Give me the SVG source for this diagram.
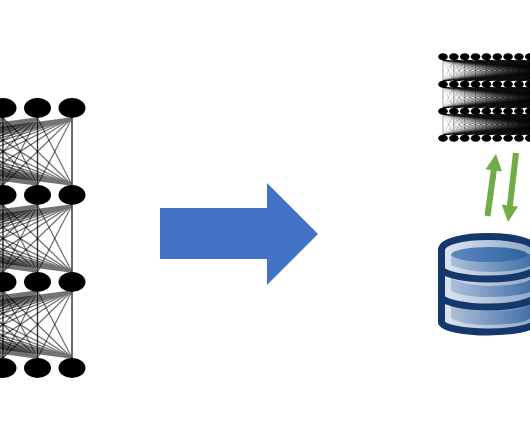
<svg xmlns="http://www.w3.org/2000/svg" width="530" height="442" viewBox="0 0 530 442">
<style>
.big{fill:#000}
.small{fill:#000}
.fanL{fill:none;stroke:#000;stroke-width:1.3;stroke-opacity:.55}
.fanR{fill:none;stroke:#000;stroke-width:.5;stroke-opacity:.38}
.db{stroke:#15386c;stroke-width:7;fill:none}
</style>
<defs>
<linearGradient id="rim" x1="0" x2="1" y1="0" y2="0"><stop offset="0" stop-color="#dfe6f1"/><stop offset="1" stop-color="#8ea6c6"/></linearGradient>
<linearGradient id="band" x1="0" x2="1" y1="0" y2="0"><stop offset="0" stop-color="#aebfd8"/><stop offset="1" stop-color="#4471a9"/></linearGradient>
<linearGradient id="top" x1="0" x2="1" y1="0" y2="0"><stop offset="0" stop-color="#5b88bf"/><stop offset="1" stop-color="#2f639f"/></linearGradient>
<path id="fl" class="fanL" d="M0 0V67M0 0L-34.5 67M0 0L-69 67M0 0L-103.5 67M0 0L-138 67M0 0L-172.5 67M0 0L-207 67M0 0L-241.5 67M0 0L-276 67M0 0L-310.5 67M0 0L-345 67M0 0L-379.5 67M0 0L-414 67M0 0L-448.5 67M0 0L-483 67M0 0L-517.5 67"/>
<g id="flPair"><use href="#fl"/><use href="#fl" transform="translate(0 67) scale(1 -1)"/></g>
<g id="layerL"><use href="#flPair" x="72"/><use href="#flPair" x="37.5"/><use href="#flPair" x="3"/></g>
<path id="fr" class="fanR" d="M0 0V21M0 0L10.85 21M0 0L21.7 21M0 0L32.55 21M0 0L43.4 21M0 0L54.25 21M0 0L65.1 21M0 0L75.95 21M0 0L86.8 21M0 0L97.65 21M0 0L108.5 21M0 0L119.35 21M0 0L130.2 21M0 0L141.05 21M0 0L151.9 21M0 0L162.75 21M0 0L173.6 21M0 0L184.45 21M0 0L195.3 21M0 0L206.15 21M0 0L217 21M0 0L227.85 21M0 0L238.7 21"/>
<g id="frPair"><use href="#fr"/><use href="#fr" transform="translate(0 21) scale(1 -1)"/></g>
<g id="layerR"><use href="#frPair" x="443"/><use href="#frPair" x="453.85"/><use href="#frPair" x="464.7"/><use href="#frPair" x="475.55"/><use href="#frPair" x="486.4"/><use href="#frPair" x="497.25"/><use href="#frPair" x="508.1"/><use href="#frPair" x="518.95"/><use href="#frPair" x="529.8"/></g>
</defs>
<rect width="530" height="442" fill="#fff"/>
<g id="connectors">
<use href="#layerL" y="118"/><use href="#layerL" y="205"/><use href="#layerL" y="291"/>
<use href="#layerR" y="60"/><use href="#layerR" y="87"/><use href="#layerR" y="114"/>
</g>
<g id="left-network">
<g id="L1"><ellipse class="big" cx="3" cy="108" rx="13.5" ry="10"/><ellipse class="big" cx="37.5" cy="108" rx="13.5" ry="10"/><ellipse class="big" cx="72" cy="108" rx="13.5" ry="10"/></g>
<g id="L2"><ellipse class="big" cx="3" cy="195" rx="13.5" ry="10"/><ellipse class="big" cx="37.5" cy="195" rx="13.5" ry="10"/><ellipse class="big" cx="72" cy="195" rx="13.5" ry="10"/></g>
<g id="L3"><ellipse class="big" cx="3" cy="282" rx="13.5" ry="10"/><ellipse class="big" cx="37.5" cy="282" rx="13.5" ry="10"/><ellipse class="big" cx="72" cy="282" rx="13.5" ry="10"/></g>
<g id="L4"><ellipse class="big" cx="3" cy="368" rx="13.5" ry="10"/><ellipse class="big" cx="37.5" cy="368" rx="13.5" ry="10"/><ellipse class="big" cx="72" cy="368" rx="13.5" ry="10"/></g>
</g>
<g id="right-network">
<g id="R1"><ellipse class="small" cx="443" cy="56.7" rx="4.8" ry="3.5"/><ellipse class="small" cx="453.85" cy="56.7" rx="4.8" ry="3.5"/><ellipse class="small" cx="464.7" cy="56.7" rx="4.8" ry="3.5"/><ellipse class="small" cx="475.55" cy="56.7" rx="4.8" ry="3.5"/><ellipse class="small" cx="486.4" cy="56.7" rx="4.8" ry="3.5"/><ellipse class="small" cx="497.25" cy="56.7" rx="4.8" ry="3.5"/><ellipse class="small" cx="508.1" cy="56.7" rx="4.8" ry="3.5"/><ellipse class="small" cx="518.95" cy="56.7" rx="4.8" ry="3.5"/><ellipse class="small" cx="529.8" cy="56.7" rx="4.8" ry="3.5"/></g>
<g id="R2"><ellipse class="small" cx="443" cy="84.3" rx="4.8" ry="3.5"/><ellipse class="small" cx="453.85" cy="84.3" rx="4.8" ry="3.5"/><ellipse class="small" cx="464.7" cy="84.3" rx="4.8" ry="3.5"/><ellipse class="small" cx="475.55" cy="84.3" rx="4.8" ry="3.5"/><ellipse class="small" cx="486.4" cy="84.3" rx="4.8" ry="3.5"/><ellipse class="small" cx="497.25" cy="84.3" rx="4.8" ry="3.5"/><ellipse class="small" cx="508.1" cy="84.3" rx="4.8" ry="3.5"/><ellipse class="small" cx="518.95" cy="84.3" rx="4.8" ry="3.5"/><ellipse class="small" cx="529.8" cy="84.3" rx="4.8" ry="3.5"/></g>
<g id="R3"><ellipse class="small" cx="443" cy="111.3" rx="4.8" ry="3.5"/><ellipse class="small" cx="453.85" cy="111.3" rx="4.8" ry="3.5"/><ellipse class="small" cx="464.7" cy="111.3" rx="4.8" ry="3.5"/><ellipse class="small" cx="475.55" cy="111.3" rx="4.8" ry="3.5"/><ellipse class="small" cx="486.4" cy="111.3" rx="4.8" ry="3.5"/><ellipse class="small" cx="497.25" cy="111.3" rx="4.8" ry="3.5"/><ellipse class="small" cx="508.1" cy="111.3" rx="4.8" ry="3.5"/><ellipse class="small" cx="518.95" cy="111.3" rx="4.8" ry="3.5"/><ellipse class="small" cx="529.8" cy="111.3" rx="4.8" ry="3.5"/></g>
<g id="R4"><ellipse class="small" cx="443" cy="138.3" rx="4.8" ry="3.5"/><ellipse class="small" cx="453.85" cy="138.3" rx="4.8" ry="3.5"/><ellipse class="small" cx="464.7" cy="138.3" rx="4.8" ry="3.5"/><ellipse class="small" cx="475.55" cy="138.3" rx="4.8" ry="3.5"/><ellipse class="small" cx="486.4" cy="138.3" rx="4.8" ry="3.5"/><ellipse class="small" cx="497.25" cy="138.3" rx="4.8" ry="3.5"/><ellipse class="small" cx="508.1" cy="138.3" rx="4.8" ry="3.5"/><ellipse class="small" cx="518.95" cy="138.3" rx="4.8" ry="3.5"/><ellipse class="small" cx="529.8" cy="138.3" rx="4.8" ry="3.5"/></g>
</g>
<g id="big-arrow"><polygon fill="#4472c4" points="160,208 267,208 267,183 318,234 267,285 267,259 160,259"/></g>
<g id="exchange-arrows" fill="#70ad47">
<polygon points="484.5,215.6 490.5,216.4 496.8,170.7 502,171.4 496,154 485.6,169.2 490.8,169.9"/>
<polygon points="513,152.7 519,153.3 512.9,205.9 518.1,206.6 508,222 501.7,204.6 506.9,205.3"/>
</g>
<g id="database">
<path d="M441.5 250C441.5 241 465 236.5 488 236.5C511 236.5 535 241 535 250V322C535 328 511 332 488 332C465 332 441.5 328 441.5 322Z" fill="url(#rim)"/>
<path d="M451 254V265C460 269 475 272 490 272C505 272 522 270 530 266V254Z" fill="url(#band)"/>
<path d="M451 278C460 283 475 286 490 286C505 286 522 284 530 280V292C522 295 505 297 490 297C472 297 460 295 451 291Z" fill="url(#band)"/>
<path d="M451 304C460 308 475 311 490 311C505 311 522 309 530 305V319C522 323 505 325 490 325C472 325 460 323 451 318Z" fill="url(#band)"/>
<ellipse cx="489.5" cy="254.5" rx="38.5" ry="7.5" fill="url(#top)"/>
<path class="db" d="M441.5 250C441.5 241 465 236.5 488 236.5C511 236.5 535 241 535 250V322C535 328 511 332 488 332C465 332 441.5 328 441.5 322Z"/>
<path class="db" d="M441.5 270C447 275 465 279 488 279C511 279 529 275 535 270"/>
<path class="db" d="M441.5 298C447 303 465 307 488 307C511 307 529 303 535 298"/>
</g>
</svg>
